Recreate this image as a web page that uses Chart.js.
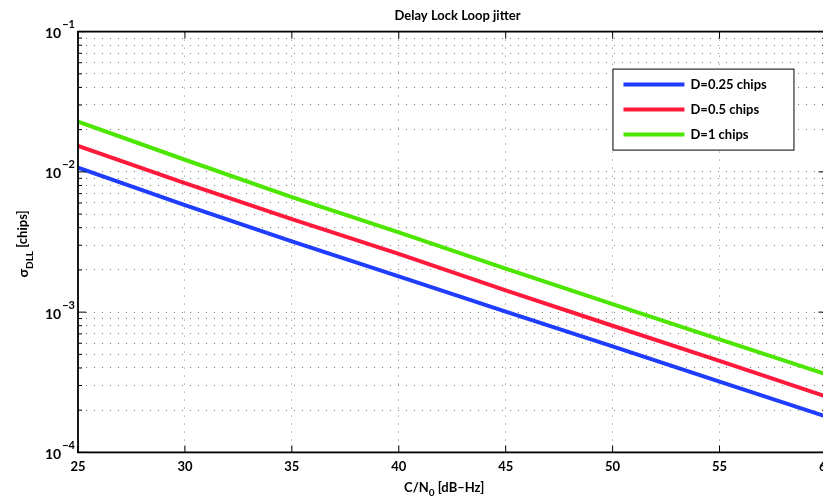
<!DOCTYPE html>
<html>
<head>
<title>Delay Lock Loop jitter</title>
<script src="https://cdn.jsdelivr.net/npm/chart.js"></script>
<style>
  body { margin: 0; overflow: hidden; background: #fff; }
  #wrap { width: 841px; height: 499px; position: relative; }
</style>
</head>
<body>

<div id="wrap"><canvas id="dllChart"></canvas></div>

<script>
// C/N0 in dB-Hz
var snrDb = [25, 30, 35, 40, 45, 50, 55, 60];
// DLL jitter [chips]
var jitterD025 = [0.0107, 0.0058, 0.0032, 0.0018, 0.00101, 0.00057, 0.00032, 0.00018];
var jitterD05  = [0.0153, 0.0083, 0.0046, 0.0026, 0.00143, 0.00080, 0.00045, 0.00025];
var jitterD1   = [0.0228, 0.0122, 0.0066, 0.0037, 0.00204, 0.00114, 0.00064, 0.00036];
var seriesLabels = ['D=0.25 chips', 'D=0.5 chips', 'D=1 chips'];
var seriesColors = ['#1f3dff', '#ff1a3c', '#4ce600'];

var xTickLabels = [25, 30, 35, 40, 45, 50, 55, 60];
var yDecades = [-4, -3, -2, -1];
var yMinorSteps = [1, 2, 3, 4, 5, 6, 7, 8, 9];

var fontFamily = 'Lato, "Open Sans", "Liberation Sans", sans-serif';

function toPoints(ys) {
  return snrDb.map(function (x, i) { return { x: x, y: ys[i] }; });
}

var yTickValues = [];
yDecades.forEach(function (e) {
  if (e === yDecades[yDecades.length - 1]) { yTickValues.push(Math.pow(10, e)); return; }
  yMinorSteps.forEach(function (m) { yTickValues.push(m * Math.pow(10, e)); });
});

// draws a text made of normal/sub/sup parts, centred on x
function drawParts(ctx, parts, x, y) {
  var total = 0;
  parts.forEach(function (p) {
    ctx.font = 'bold ' + (p.size || 13) + 'px ' + fontFamily;
    p.w = ctx.measureText(p.t).width;
    total += p.w;
  });
  var cx = x - total / 2;
  parts.forEach(function (p) {
    ctx.font = 'bold ' + (p.size || 13) + 'px ' + fontFamily;
    ctx.fillText(p.t, cx, y + (p.dy || 0));
    cx += p.w;
  });
}

var matlabFrame = {
  id: 'matlabFrame',
  afterDatasetsDraw: function (chart) {
    var ctx = chart.ctx, a = chart.chartArea;
    var xs = chart.scales.x, ys = chart.scales.y;
    ctx.save();
    ctx.strokeStyle = '#000';
    ctx.lineWidth = 1;
    // inward ticks
    ctx.beginPath();
    xTickLabels.forEach(function (v) {
      var px = xs.getPixelForValue(v);
      ctx.moveTo(px, a.bottom); ctx.lineTo(px, a.bottom - 7);
      ctx.moveTo(px, a.top); ctx.lineTo(px, a.top + 7);
    });
    yTickValues.forEach(function (v) {
      var py = ys.getPixelForValue(v);
      var major = Math.abs(Math.log10(v) - Math.round(Math.log10(v))) < 1e-9;
      var len = major ? 8 : 4;
      ctx.moveTo(a.left, py); ctx.lineTo(a.left + len, py);
      ctx.moveTo(a.right, py); ctx.lineTo(a.right - len, py);
    });
    ctx.stroke();
    // box
    ctx.lineWidth = 1.8;
    ctx.strokeRect(a.left, a.top, a.right - a.left, a.bottom - a.top);
    ctx.restore();
  },
  afterDraw: function (chart) {
    var ctx = chart.ctx, a = chart.chartArea;
    var ys = chart.scales.y;
    ctx.save();
    ctx.fillStyle = '#000';
    ctx.textBaseline = 'middle';

    // y tick labels 10^n
    ctx.textAlign = 'left';
    yDecades.forEach(function (e) {
      var py = ys.getPixelForValue(Math.pow(10, e));
      ctx.font = 'bold 14px ' + fontFamily;
      var w10 = ctx.measureText('10').width;
      ctx.font = 'bold 11px ' + fontFamily;
      var we = ctx.measureText('\u2212' + (-e)).width;
      var x0 = a.left - 4 - we - w10;
      ctx.font = 'bold 14px ' + fontFamily;
      ctx.fillText('10', x0, py + 2);
      ctx.font = 'bold 11px ' + fontFamily;
      ctx.fillText('\u2212' + (-e), x0 + w10 + 1, py - 7);
    });

    // x axis title
    drawParts(ctx, [
      { t: 'C/N' },
      { t: '0', size: 10, dy: 5 },
      { t: ' [dB\u2013Hz]' }
    ], (a.left + a.right) / 2 - 8, a.bottom + 35);

    // y axis title (rotated)
    ctx.save();
    ctx.translate(23, (a.top + a.bottom) / 2 + 2);
    ctx.rotate(-Math.PI / 2);
    drawParts(ctx, [
      { t: '\u03C3', size: 14 },
      { t: 'DLL', size: 10, dy: 7 },
      { t: ' [chips]' }
    ], 0, 0);
    ctx.restore();

    // legend box
    var lx = a.right - 214, ly = a.top + 37, lw = 181, lh = 81;
    ctx.fillStyle = '#fff';
    ctx.fillRect(lx, ly, lw, lh);
    ctx.strokeStyle = '#000';
    ctx.lineWidth = 1;
    ctx.strokeRect(lx + 0.5, ly + 0.5, lw, lh);
    chart.data.datasets.forEach(function (ds, i) {
      var rowY = ly + 16 + i * 25;
      ctx.strokeStyle = ds.borderColor;
      ctx.lineWidth = 4;
      ctx.beginPath();
      ctx.moveTo(lx + 11, rowY); ctx.lineTo(lx + 72, rowY);
      ctx.stroke();
      ctx.fillStyle = '#000';
      ctx.font = 'bold 13px ' + fontFamily;
      ctx.textAlign = 'left';
      ctx.fillText(ds.label, lx + 78, rowY);
    });
    ctx.restore();
  }
};

var ctx = document.getElementById('dllChart').getContext('2d');
var dllChart = new Chart(ctx, {
  type: 'line',
  data: {
    datasets: [
      { label: seriesLabels[0], data: toPoints(jitterD025), borderColor: seriesColors[0] },
      { label: seriesLabels[1], data: toPoints(jitterD05), borderColor: seriesColors[1] },
      { label: seriesLabels[2], data: toPoints(jitterD1), borderColor: seriesColors[2] }
    ]
  },
  options: {
    responsive: true,
    maintainAspectRatio: false,
    animation: false,
    elements: {
      line: { borderWidth: 4, tension: 0, fill: false },
      point: { radius: 0 }
    },
    layout: { padding: { left: 78, right: 4, top: 0, bottom: 17 } },
    plugins: {
      legend: { display: false },
      tooltip: { enabled: false },
      title: {
        display: true,
        text: 'Delay Lock Loop jitter',
        color: '#000',
        font: { family: fontFamily, size: 13, weight: 'bold' },
        padding: { top: 8, bottom: 8 }
      }
    },
    scales: {
      x: {
        type: 'linear',
        min: 25,
        max: 60,
        afterBuildTicks: function (axis) {
          axis.ticks = xTickLabels.map(function (v) { return { value: v }; });
        },
        ticks: {
          autoSkip: false,
          maxRotation: 0,
          padding: 7,
          color: '#000',
          font: { family: fontFamily, size: 13, weight: 'bold' }
        },
        grid: { color: '#888', lineWidth: 1, drawTicks: false },
        border: { display: false, dash: [1, 7] }
      },
      y: {
        type: 'logarithmic',
        min: 1e-4,
        max: 1e-1,
        afterBuildTicks: function (axis) {
          axis.ticks = yTickValues.map(function (v) { return { value: v }; });
        },
        ticks: { display: false },
        grid: { color: '#777', lineWidth: 1, drawTicks: false },
        border: { display: false, dash: [1, 7] }
      }
    }
  },
  plugins: [matlabFrame]
});
</script>

</body>
</html>
